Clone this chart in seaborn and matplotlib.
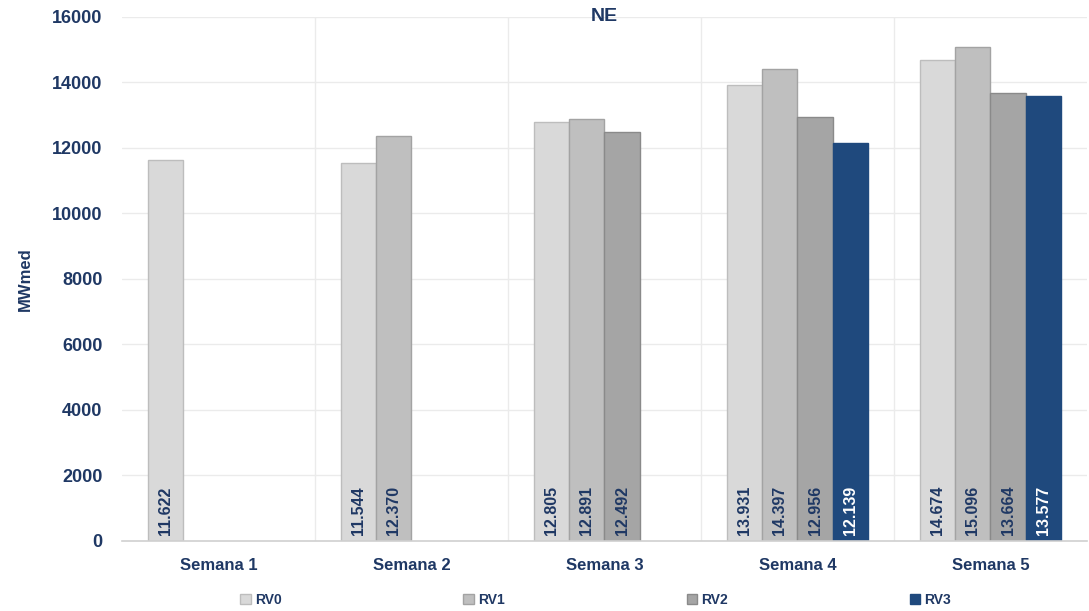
import numpy as np
import pandas as pd
import matplotlib
matplotlib.use("Agg")
import matplotlib.pyplot as plt
import seaborn as sns
from matplotlib.patches import Patch

weeks = ["Semana 1", "Semana 2", "Semana 3", "Semana 4", "Semana 5"]
revisions = ["RV0", "RV1", "RV2", "RV3"]
rv0 = [11622, 11544, 12805, 13931, 14674]
rv1 = [np.nan, 12370, 12891, 14397, 15096]
rv2 = [np.nan, np.nan, 12492, 12956, 13664]
rv3 = [np.nan, np.nan, np.nan, 12139, 13577]
yticks = [0, 2000, 4000, 6000, 8000, 10000, 12000, 14000, 16000]

colors = ["#D9D9D9", "#BFBFBF", "#A5A5A5", "#1F497D"]
edges = ["#BDBDBD", "#A3A3A3", "#8A8A8A", "#1F497D"]
label_colors = ["#1F3864", "#1F3864", "#1F3864", "#FFFFFF"]
navy = "#1F3864"

rows = []
for rv, vals in zip(revisions, [rv0, rv1, rv2, rv3]):
    for w, v in zip(weeks, vals):
        rows.append({"Semana": w, "RV": rv, "MWmed": v})
df = pd.DataFrame(rows)

sns.set_theme(style="white")
plt.rcParams["font.family"] = ["Liberation Sans", "DejaVu Sans"]

fig = plt.figure(figsize=(10.89, 6.11), dpi=100)
ax = fig.add_axes([0.112, 0.1146, 0.886, 0.8576])

sns.barplot(data=df.dropna(), x="Semana", y="MWmed", hue="RV", order=weeks,
            hue_order=revisions, palette=colors, width=0.734, ax=ax,
            errorbar=None, legend=False, saturation=1, linewidth=1)

for cont, ec, lc in zip(ax.containers, edges, label_colors):
    for p in cont:
        p.set_edgecolor(ec)
        h = p.get_height()
        if h and not np.isnan(h) and h > 0:
            s = f"{int(round(h)):,}".replace(",", ".")
            ax.annotate(s, (p.get_x() + p.get_width() / 2, 0), xytext=(0, 4),
                        textcoords="offset points", rotation=90, ha="center",
                        va="bottom", color=lc, fontsize=11.5, fontweight="bold")

ax.set_ylim(0, 16000)
ax.set_xlim(-0.5, 4.5)
ax.set_yticks(yticks)
ax.set_yticklabels([str(t) for t in yticks], color=navy, fontsize=13, fontweight="bold")
ax.set_xticks(range(len(weeks)))
ax.set_xticklabels(weeks, color=navy, fontsize=12, fontweight="bold")
ax.tick_params(axis="y", length=0, pad=14)
ax.tick_params(axis="x", length=0, pad=12)
ax.set_xlabel("")
ax.set_ylabel("MWmed", color=navy, fontsize=12, fontweight="bold")
ax.yaxis.set_label_coords(-0.092, 0.5)
ax.set_title("NE", color=navy, fontsize=14, fontweight="bold", pad=-3)

ax.grid(axis="y", color="#EBEBEB", linewidth=1)
for xb in [0.5, 1.5, 2.5, 3.5]:
    ax.axvline(xb, color="#EBEBEB", linewidth=1, zorder=0)
ax.set_axisbelow(True)
for side in ["top", "right", "left"]:
    ax.spines[side].set_visible(False)
ax.spines["bottom"].set_color("#D0D0D0")
ax.spines["bottom"].set_linewidth(1.2)

handles = [Patch(facecolor=c, edgecolor=e, label=r) for c, e, r in zip(colors, edges, revisions)]
leg = fig.legend(handles=handles, loc="center", bbox_to_anchor=(0.547, 0.018), ncol=4,
                 frameon=False, handlelength=0.75, handleheight=0.75, handletextpad=0.3,
                 columnspacing=13.1, prop={"size": 10, "weight": "bold"})
for t in leg.get_texts():
    t.set_color(navy)

fig.savefig("out.png", dpi=100)
